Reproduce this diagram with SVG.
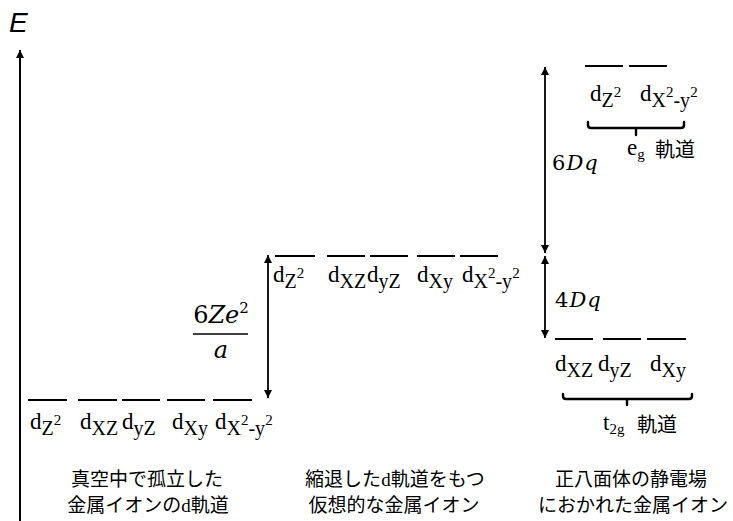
<svg xmlns="http://www.w3.org/2000/svg" width="733" height="521" viewBox="0 0 733 521">
<style>
.lv{stroke:#000;stroke-width:2;fill:none}
.ar{stroke:#000;stroke-width:1.8;fill:none}
.br{stroke:#000;stroke-width:2.4;fill:none;stroke-linecap:round;stroke-linejoin:round}
.d{font-family:"Liberation Serif","Times New Roman",serif;font-size:23px;fill:#000}
.sb{font-size:20px}
.sp{font-size:15px}
.m{font-family:"DejaVu Serif","Liberation Serif",serif;fill:#000}
.it{font-style:italic}
.jp{font-family:"Noto Sans CJK JP","Noto Sans",sans-serif;font-size:20px;fill:#000}
.cap{font-family:"Noto Sans CJK JP","Noto Sans",sans-serif;font-size:19px;fill:#000;text-anchor:middle}
</style>
<defs>
<marker id="ah" viewBox="0 0 10 10" refX="10" refY="5" markerWidth="8" markerHeight="8" markerUnits="userSpaceOnUse" orient="auto-start-reverse">
<path d="M0,0 L10,5 L0,10 Z" fill="#000"/>
</marker>
<marker id="axh" viewBox="0 0 10 10" refX="10" refY="5" markerWidth="10" markerHeight="8" markerUnits="userSpaceOnUse" orient="auto">
<path d="M0,0 L10,5 L0,10 Z" fill="#000"/>
</marker>
</defs>

<g id="axis">
<line x1="20" y1="521" x2="20" y2="50" stroke="#000" stroke-width="2" marker-end="url(#axh)"/>
<text x="9" y="32" font-family="Liberation Sans,Arial,sans-serif" font-style="italic" font-size="28">E</text>
</g>

<g id="connectors">
<line class="ar" x1="268" y1="255" x2="268" y2="398" marker-start="url(#ah)" marker-end="url(#ah)"/>
<line class="ar" x1="545" y1="67" x2="545" y2="253" marker-start="url(#ah)" marker-end="url(#ah)"/>
<line class="ar" x1="545" y1="256" x2="545" y2="338" marker-start="url(#ah)" marker-end="url(#ah)"/>
</g>

<g id="splitting-labels">
<text class="m" font-size="24" x="221" y="323" text-anchor="middle">6<tspan class="it">Ze</tspan><tspan font-size="15" dy="-10">2</tspan></text>
<line x1="193" y1="334" x2="248" y2="334" stroke="#000" stroke-width="1.5"/>
<text class="m it" font-size="24" x="221" y="358" text-anchor="middle">a</text>
<text class="m" font-size="21" x="552" y="170" letter-spacing="1">6<tspan class="it">Dq</tspan></text>
<text class="m" font-size="21" x="555" y="307" letter-spacing="1">4<tspan class="it">Dq</tspan></text>
</g>

<!-- Free ion -->
<g id="free-dz2"><line class="lv" x1="28" y1="400" x2="67" y2="400"/><text class="d" x="30" y="429">d<tspan class="sb" dy="6">Z</tspan><tspan class="sp" dy="-10">2</tspan></text></g>
<g id="free-dxz"><line class="lv" x1="78" y1="400" x2="117" y2="400"/><text class="d" x="80" y="429">d<tspan class="sb" dy="6">XZ</tspan></text></g>
<g id="free-dyz"><line class="lv" x1="122" y1="400" x2="160" y2="400"/><text class="d" x="122" y="429">d<tspan class="sb" dy="6">yZ</tspan></text></g>
<g id="free-dxy"><line class="lv" x1="167" y1="400" x2="205" y2="400"/><text class="d" x="172" y="429">d<tspan class="sb" dy="6">Xy</tspan></text></g>
<g id="free-dx2y2"><line class="lv" x1="213" y1="400" x2="252" y2="400"/><text class="d" x="215" y="429">d<tspan class="sb" dy="6">X</tspan><tspan class="sp" dy="-10">2</tspan><tspan class="sb" dy="10">-y</tspan><tspan class="sp" dy="-10">2</tspan></text></g>

<!-- Degenerate -->
<g id="deg-dz2"><line class="lv" x1="275" y1="256" x2="315" y2="256"/><text class="d" x="273" y="282">d<tspan class="sb" dy="6">Z</tspan><tspan class="sp" dy="-10">2</tspan></text></g>
<g id="deg-dxz"><line class="lv" x1="327" y1="256" x2="365" y2="256"/><text class="d" x="328" y="282">d<tspan class="sb" dy="6">XZ</tspan></text></g>
<g id="deg-dyz"><line class="lv" x1="370" y1="256" x2="408" y2="256"/><text class="d" x="367" y="282">d<tspan class="sb" dy="6">yZ</tspan></text></g>
<g id="deg-dxy"><line class="lv" x1="417" y1="256" x2="455" y2="256"/><text class="d" x="417" y="282">d<tspan class="sb" dy="6">Xy</tspan></text></g>
<g id="deg-dx2y2"><line class="lv" x1="460" y1="256" x2="498" y2="256"/><text class="d" x="462" y="282">d<tspan class="sb" dy="6">X</tspan><tspan class="sp" dy="-10">2</tspan><tspan class="sb" dy="10">-y</tspan><tspan class="sp" dy="-10">2</tspan></text></g>

<!-- eg -->
<g id="eg-dz2"><line class="lv" x1="585" y1="66" x2="623" y2="66"/><text class="d" x="590" y="101">d<tspan class="sb" dy="6">Z</tspan><tspan class="sp" dy="-10">2</tspan></text></g>
<g id="eg-dx2y2"><line class="lv" x1="629" y1="66" x2="667" y2="66"/><text class="d" x="640" y="101">d<tspan class="sb" dy="6">X</tspan><tspan class="sp" dy="-10">2</tspan><tspan class="sb" dy="10">-y</tspan><tspan class="sp" dy="-10">2</tspan></text></g>
<g id="eg-brace">
<path class="br" d="M588,122 L588,125 Q588,128 591,128 L681,128 Q684,128 684,125 L684,122 M636,128 L636,135"/>
<text class="d" x="627" y="155">e<tspan font-size="15" dy="4">g</tspan></text>
<text class="jp" x="655" y="157">軌道</text>
</g>

<!-- t2g -->
<g id="t2g-dxz"><line class="lv" x1="555" y1="339" x2="593" y2="339"/><text class="d" x="555" y="371">d<tspan class="sb" dy="6">XZ</tspan></text></g>
<g id="t2g-dyz"><line class="lv" x1="603" y1="339" x2="641" y2="339"/><text class="d" x="598" y="371">d<tspan class="sb" dy="6">yZ</tspan></text></g>
<g id="t2g-dxy"><line class="lv" x1="647" y1="339" x2="686" y2="339"/><text class="d" x="650" y="371">d<tspan class="sb" dy="6">Xy</tspan></text></g>
<g id="t2g-brace">
<path class="br" d="M563,394 L563,396 Q563,399 566,399 L689,399 Q692,399 692,396 L692,394 M627,399 L627,405"/>
<text class="d" x="603" y="430">t<tspan font-size="15" dy="4">2g</tspan></text>
<text class="jp" x="637" y="432">軌道</text>
</g>

<!-- captions -->
<g id="caption-free">
<text class="cap" x="147" y="486">真空中で孤立した</text>
<text class="cap" x="148" y="512">金属イオンの<tspan font-family="Liberation Serif,serif">d</tspan>軌道</text>
</g>
<g id="caption-degenerate">
<text class="cap" x="395" y="486">縮退した<tspan font-family="Liberation Serif,serif">d</tspan>軌道をもつ</text>
<text class="cap" x="394" y="512">仮想的な金属イオン</text>
</g>
<g id="caption-octahedral">
<text class="cap" x="631" y="486">正八面体の静電場</text>
<text class="cap" x="633" y="512">におかれた金属イオン</text>
</g>
</svg>
